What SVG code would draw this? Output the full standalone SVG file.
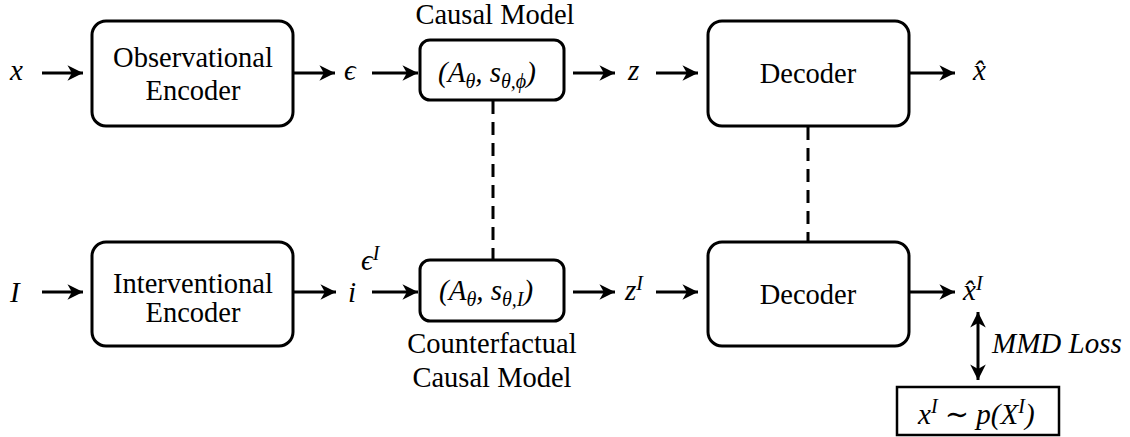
<svg xmlns="http://www.w3.org/2000/svg" width="1130" height="437" viewBox="0 0 1130 437">
<style>
.box{fill:#fff;stroke:#000;stroke-width:3}
.lbl{font-family:"Liberation Serif",Tinos,"Times New Roman","DejaVu Serif",serif;font-size:28.5px;fill:#000}
.m{font-family:"Liberation Serif",Tinos,"Times New Roman","DejaVu Serif",serif;font-style:italic;font-size:29px;fill:#000}
.c{text-anchor:middle}
.arr{stroke:#000;stroke-width:3;fill:none;marker-end:url(#ah)}
.dash{stroke:#000;stroke-width:3;fill:none;stroke-dasharray:13 8}
</style>
<defs>
<marker id="ah" markerUnits="userSpaceOnUse" markerWidth="20" markerHeight="20" viewBox="-16 -8 18 16" refX="0" refY="0" orient="auto-start-reverse">
<path d="M-14,-7 L0,0 L-14,7 L-10,0 Z" fill="#000"/>
</marker>
</defs>
<g id="obs-encoder"><rect class="box" x="92" y="21" width="201" height="105" rx="14"/><text class="lbl c" x="193" y="67">Observational</text><text class="lbl c" x="193" y="100">Encoder</text></g>
<g id="causal-model"><rect class="box" x="420" y="40" width="144" height="60" rx="10"/><text class="lbl c" x="495" y="24">Causal Model</text><text class="m" x="438" y="82">(A<tspan font-size="20" dy="6">θ</tspan><tspan dy="-6">, s</tspan><tspan font-size="20" dy="6">θ,ϕ</tspan><tspan dy="-6">)</tspan></text></g>
<g id="decoder-top"><rect class="box" x="708" y="21" width="201" height="105" rx="14"/><text class="lbl c" x="808" y="83">Decoder</text></g>
<g id="int-encoder"><rect class="box" x="92" y="242" width="201" height="104" rx="14"/><text class="lbl c" x="193" y="293">Interventional</text><text class="lbl c" x="193" y="322">Encoder</text></g>
<g id="cf-causal-model"><rect class="box" x="420" y="260" width="144" height="61" rx="10"/><text class="m" x="439" y="300">(A<tspan font-size="20" dy="6">θ</tspan><tspan dy="-6">, s</tspan><tspan font-size="20" dy="6">θ,I</tspan><tspan dy="-6">)</tspan></text><text class="lbl c" x="492" y="353">Counterfactual</text><text class="lbl c" x="492" y="387">Causal Model</text></g>
<g id="decoder-bottom"><rect class="box" x="708" y="242" width="201" height="104" rx="14"/><text class="lbl c" x="808" y="304">Decoder</text></g>
<g id="sample"><rect x="897" y="387" width="162" height="48" fill="#fff" stroke="#000" stroke-width="2.5"/><text class="m" x="918" y="424" font-size="31">x<tspan font-size="20" dy="-11">I</tspan><tspan dy="11"> ∼ p(X</tspan><tspan font-size="20" dy="-11">I</tspan><tspan dy="11">)</tspan></text></g>
<g id="symbols">
<text class="m" x="10" y="80">x</text>
<text class="m" x="344" y="80">ϵ</text>
<text class="m" x="628" y="80">z</text>
<text class="m" x="973" y="80">x̂</text>
<text class="m" x="10" y="302">I</text>
<text class="m" x="348" y="302">i</text>
<text class="m" x="361" y="270">ϵ<tspan font-size="20" dy="-10">I</tspan></text>
<text class="m" x="625" y="300">z<tspan font-size="20" dy="-10">I</tspan></text>
<text class="m" x="963" y="300">x̂<tspan font-size="20" dy="-10">I</tspan></text>
<text class="m" x="992" y="353">MMD Loss</text>
</g>
<g id="connectors">
<line class="arr" x1="42" y1="73" x2="83" y2="73"/>
<line class="arr" x1="293" y1="73" x2="335" y2="73"/>
<line class="arr" x1="372" y1="73" x2="418" y2="73"/>
<line class="arr" x1="573" y1="73" x2="615" y2="73"/>
<line class="arr" x1="656" y1="73" x2="698" y2="73"/>
<line class="arr" x1="909" y1="73" x2="955" y2="73"/>
<line class="arr" x1="42" y1="292" x2="83" y2="292"/>
<line class="arr" x1="293" y1="292" x2="336" y2="292"/>
<line class="arr" x1="372" y1="292" x2="418" y2="292"/>
<line class="arr" x1="573" y1="292" x2="615" y2="292"/>
<line class="arr" x1="656" y1="292" x2="698" y2="292"/>
<line class="arr" x1="909" y1="292" x2="955" y2="292"/>
<line x1="978" y1="312" x2="978" y2="380" stroke="#000" stroke-width="3" marker-start="url(#ah)" marker-end="url(#ah)"/>
<line class="dash" x1="493" y1="101" x2="493" y2="259"/>
<line class="dash" x1="808" y1="127" x2="808" y2="241"/>
</g>
</svg>
